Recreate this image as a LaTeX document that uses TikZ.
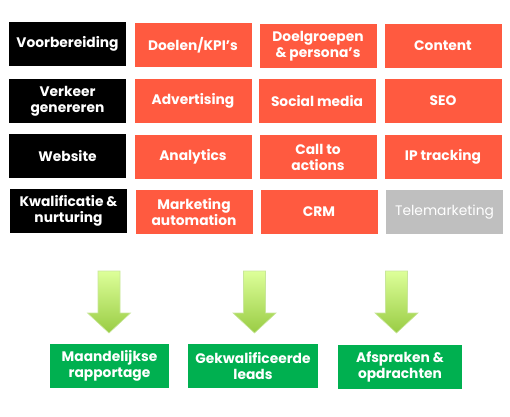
\documentclass[tikz,border=0pt]{standalone}
\usepackage{fontspec}
\setmainfont{Poppins}[BoldFont={Poppins Bold}]
\usetikzlibrary{positioning}
\definecolor{orng}{HTML}{FF5A40}
\definecolor{grn}{HTML}{00B050}
\definecolor{gry}{HTML}{BFBFBF}
\definecolor{alight}{HTML}{DDFF99}
\definecolor{adark}{HTML}{99CC44}
\definecolor{aedge}{HTML}{C8E69A}
\tikzset{
  cell/.style={rectangle, minimum width=117pt, minimum height=44pt, inner sep=1pt,
    align=center, text=white, font=\fontsize{13.8}{16}\selectfont\bfseries},
  blackcell/.style={cell, fill=black},
  orangecell/.style={cell, fill=orng},
  graycell/.style={cell, fill=gry, font=\fontsize{13.8}{16}\selectfont},
  greencell/.style={cell, fill=grn, minimum height=44pt},
  blockarrow/.style={top color=alight, bottom color=adark, draw=aedge, line width=0.6pt}
}
\begin{document}
\begin{tikzpicture}[x=1pt,y=-1pt]
\useasboundingbox (0,0) rectangle (510,416);
% row 1
\node[blackcell]  (vb)  at (67.5,44)  {Voorbereiding};
\node[orangecell] (dk)  at (193,45)   {Doelen/KPI’s};
\node[orangecell] (dg)  at (318,46)   {Doelgroepen\\\& persona’s};
\node[orangecell] (ct)  at (443,46)   {Content};
% row 2
\node[blackcell]  (vg)  at (67.5,101) {Verkeer\\genereren};
\node[orangecell] (ad)  at (193,101)  {Advertising};
\node[orangecell] (sm)  at (317,101)  {Social media};
\node[orangecell] (seo) at (443,101)  {SEO};
% row 3
\node[blackcell]  (ws)  at (67.5,156) {Website};
\node[orangecell] (an)  at (193,157)  {Analytics};
\node[orangecell] (cta) at (318,157)  {Call to\\actions};
\node[orangecell] (ip)  at (443,157)  {IP tracking};
% row 4
\node[blackcell]  (kn)  at (68.5,211) {Kwalificatie \&\\nurturing};
\node[orangecell] (ma)  at (194,212)  {Marketing\\automation};
\node[orangecell] (crm) at (319,212)  {CRM};
\node[graycell]   (tm)  at (444.5,212){Telemarketing};
% outcomes
\node[greencell, minimum width=119pt] (mr) at (109.5,366) {Maandelijkse\\rapportage};
\node[greencell, minimum width=130pt] (gl) at (253,366)   {Gekwalificeerde\\leads};
\node[greencell, minimum width=124pt] (ao) at (400,367)   {Afspraken \&\\opdrachten};
% block arrows
\coordinate (a1) at (109,271);
\coordinate (a2) at (254.5,271);
\coordinate (a3) at (396.5,271);
\foreach \c in {a1,a2,a3}{
  \draw[blockarrow] ([xshift=-11pt]\c) -- ([xshift=11pt]\c) -- ([xshift=11pt,yshift=-42pt]\c)
    -- ([xshift=21.5pt,yshift=-42pt]\c) -- ([yshift=-62pt]\c) -- ([xshift=-21.5pt,yshift=-42pt]\c)
    -- ([xshift=-11pt,yshift=-42pt]\c) -- cycle;
}
\end{tikzpicture}
\end{document}
